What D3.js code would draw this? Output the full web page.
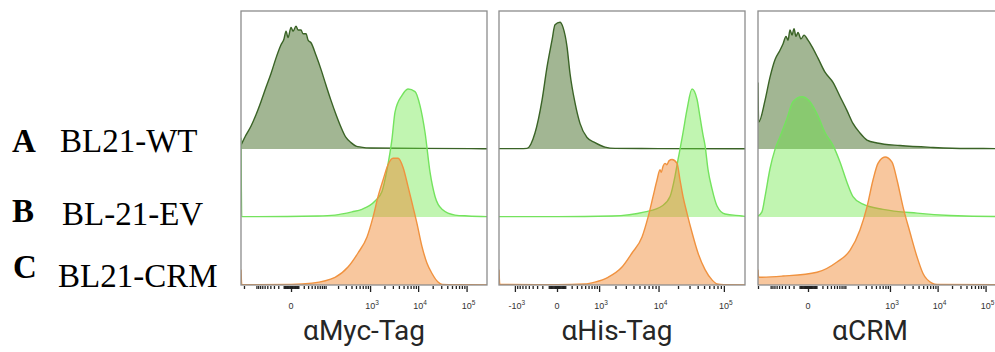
<!DOCTYPE html>
<html><head><meta charset="utf-8">
<script src="https://cdn.jsdelivr.net/npm/d3@7"></script>
<style>body{margin:0;background:#fff}</style>
</head><body><svg id="c" width="995" height="352"></svg>
<script>
// ---------- data ----------
const rowLetters = ["A", "B", "C"];
const rowNames = ["BL21-WT", "BL-21-EV", "BL21-CRM"];
const markers = ["αMyc-Tag", "αHis-Tag", "αCRM"];
const xDomains = [[-234, 263800], [-1962, 209000], [-200, 242000]];
const linearWidths = [24, 300, 20];
const majorTicks = [[0, 1e3, 1e4, 1e5], [-1e3, 0, 1e3, 1e4, 1e5], [0, 1e3, 1e4, 1e5]];
const majorLabels = [["0", "10|3", "10|4", "10|5"], ["-10|3", "0", "10|3", "10|4", "10|5"], ["0", "10|3", "10|4", "10|5"]];

// [fluorescence intensity, count as % of mode]
const myc_WT = [[-234,3],[-179,11],[-136,18],[-102,27],[-76,37],[-55,48],[-38,59],[-25,71],[-15,81],[-9.5,86],[-6.4,92],[-3.7,87],[0,95],[2.4,92],[6.4,96],[9.5,93],[14.6,93],[18.4,90],[25,90],[30,85],[38,83],[55,73],[76,62],[102,50],[136,38],[179,27],[234,17],[302,9],[390,5],[501,2.3],[642,1.5],[1046,0.8],[11470,0.5],[123300,0.3],[263800,0.2]];
const myc_EV = [[-234,62],[-225,0.3],[-100,0.3],[62,0.8],[170,1.5],[411,4],[673,6],[1272,12.5],[1779,20],[2265,37],[2876,61],[3323,82],[4639,95],[6175,100],[8630,98],[10940,87],[13895,66],[17620,35],[22340,16],[31150,6],[57740,1.5],[107000,0.8],[263800,0.3]];
const myc_CRM = [[-234,12],[-225,0.5],[-100,0.3],[0,0.5],[41,1.5],[170,6],[335,14],[553,25],[862,37.5],[1154,53],[1469,69],[1870,82],[2376,94],[3019,99],[3833,99],[4867,92],[6175,77],[7836,61],[9480,48],[12030,30],[15260,17],[19370,9],[25750,2.3],[31150,0.5],[60000,0.2],[263800,0.1]];

const his_WT = [[-1962,0.3],[-800,0.3],[-553,0.5],[-346,12.5],[-206,38],[-125,64],[-57,85],[-21.6,97],[33,99],[70,95],[125,80],[172,59],[262,36],[368,20],[553,9],[827,5],[1297,1.5],[1962,0.5],[10000,0.3],[209000,0.2]];
const his_EV = [[-1962,0.3],[0,0.3],[1738,0.8],[6130,4],[11340,8.6],[15080,16],[18000,32],[20020,45],[21480,53],[23880,66],[27490,84],[32770,100],[39050,92],[43410,78],[48240,64],[51730,56],[57440,37],[66060,22],[78750,8.6],[104100,2.3],[188400,0.8],[209000,0.5]];
const his_CRM = [[-1962,12],[-1900,0.5],[0,0.3],[500,0.8],[827,2.3],[1473,6],[2587,14],[3791,25],[5495,37.5],[6850,53],[8200,69],[9470,82],[10550,90],[11000,88],[11800,93],[12610,95],[13500,94],[14500,97],[16180,98],[19320,95],[21480,82],[23880,69],[27490,56],[32770,41],[40450,25],[51730,12],[66060,4],[78750,0.8],[100000,0.2],[209000,0.1]];

const crm_WT = [[-200,52],[-193,21],[-137,38],[-104,56],[-77,70],[-57,77],[-46.4,82],[-37.4,88],[-32.2,85],[-27.4,93],[-23,89],[-19.1,94],[-15.6,88],[-12.3,91],[-8,86],[-4.2,89],[0,85],[4.2,80],[12.3,71],[25.2,60],[46.4,52],[72.8,41],[110,30],[153,20],[222,12.5],[319,7],[528,4.7],[1630,2.7],[8018,1.2],[41060,0.4],[242000,0.3]];
const crm_EV = [[-200,0.8],[-162,4],[-137,16],[-104,37.5],[-77,53],[-57,62.5],[-34.8,77],[-21.1,90],[-6.7,94],[2,90],[12.3,79],[25.2,66],[46.4,56],[72.8,43],[110,27],[153,16],[260,10],[710,6],[3712,3],[18140,1.2],[157400,0.4],[242000,0.4]];
const crm_CRM = [[-200,12],[-193,6],[-46.4,7],[10.8,10],[60.4,18],[130,27],[222,43],[319,61],[432,82],[554,95],[784,100],[1105,96],[1410,82],[1886,61],[2648,41],[3712,22],[4958,9],[7640,1.5],[9720,0.4],[242000,0.1]];

const series = [[myc_WT, myc_EV, myc_CRM], [his_WT, his_EV, his_CRM], [crm_WT, crm_EV, crm_CRM]];

// ---------- layout / style ----------
const panelX = [241, 499, 758], panelW = 246, panelTop = 11, panelBottom = 285;
const rowStyle = [
  {fill: "rgb(70,110,40)", op: 0.5, stroke: "#3a6326"},
  {fill: "rgb(100,230,60)", op: 0.4, stroke: "#74e35e"},
  {fill: "rgb(240,130,40)", op: 0.45, stroke: "#f0923f"}
];
const titleX = [364, 617, 870];

const svg = d3.select("#c");
svg.append("rect").attr("width", 995).attr("height", 352).attr("fill", "#fff");

const hScale = d3.scaleLinear().domain([0, 100]).range([0, 128]);
const baseY = d3.scalePoint().domain(rowNames).range([149, panelBottom]);

function minorTicks(dom) {
  const out = [];
  for (let k = 0; k <= 4; k++) for (let m = 1; m <= 9; m++) {
    const v = m * Math.pow(10, k);
    if (m === 1 && k >= 3) continue;
    if (v <= dom[1]) out.push(v);
    if (-v >= dom[0] && !(m === 1 && k === 3)) out.push(-v);
  }
  return out;
}

markers.forEach((mk, i) => {
  const x = d3.scaleSymlog().constant(linearWidths[i]).domain(xDomains[i]).range([panelX[i], panelX[i] + panelW]);
  const g = svg.append("g");
  const clipId = "clip" + i;
  svg.append("clipPath").attr("id", clipId).append("rect")
    .attr("x", panelX[i]).attr("y", panelTop).attr("width", panelW).attr("height", panelBottom - panelTop);
  const plot = g.append("g").attr("clip-path", `url(#${clipId})`);

  rowNames.forEach((rn, r) => {
    const b = baseY(rn);
    const data = series[i][r];
    const area = d3.area().x(d => x(d[0])).y0(b).y1(d => b - hScale(d[1])).curve(d3.curveMonotoneX);
    const line = d3.line().x(d => x(d[0])).y(d => b - hScale(d[1])).curve(d3.curveMonotoneX);
    plot.append("path").attr("d", area(data)).attr("fill", rowStyle[r].fill).attr("fill-opacity", rowStyle[r].op);
    plot.append("path").attr("d", line(data)).attr("fill", "none").attr("stroke", rowStyle[r].stroke).attr("stroke-width", 1.4);
  });

  g.append("rect").attr("x", panelX[i]).attr("y", panelTop).attr("width", panelW).attr("height", panelBottom - panelTop)
    .attr("fill", "none").attr("stroke", "#8c8c8c").attr("stroke-width", 1.3);

  const minorAxis = d3.axisBottom(x).tickValues(minorTicks(xDomains[i])).tickSize(3).tickFormat("");
  const majorAxis = d3.axisBottom(x).tickValues(majorTicks[i]).tickSize(6).tickFormat("");
  [minorAxis, majorAxis].forEach(ax => {
    const a = g.append("g").attr("transform", `translate(0,${panelBottom + 1})`).call(ax);
    a.select(".domain").remove();
    a.selectAll(".tick line").attr("stroke", "#222").attr("stroke-width", 1.3);
  });

  majorTicks[i].forEach((v, j) => {
    const parts = majorLabels[i][j].split("|");
    const t = g.append("text").attr("x", x(v) + (parts.length > 1 ? 2 : 0)).attr("y", 309)
      .attr("text-anchor", "middle").attr("font-family", "Liberation Sans, Arial, sans-serif")
      .attr("font-size", 9).attr("fill", "#333");
    t.append("tspan").text(parts[0]);
    if (parts.length > 1) t.append("tspan").attr("dy", -4).attr("font-size", 6.5).text(parts[1]);
  });

  svg.append("text").attr("x", titleX[i]).attr("y", 340).attr("text-anchor", "middle")
    .attr("font-family", "Roboto, sans-serif").attr("font-size", 28).attr("fill", "#262626").text(mk);
});

// row labels
const letterPos = [[12, 152], [12, 222], [13, 278]];
const namePos = [[60, 152], [62, 225], [58, 287]];
rowNames.forEach((rn, r) => {
  svg.append("text").attr("x", letterPos[r][0]).attr("y", letterPos[r][1])
    .attr("font-family", "Liberation Serif, Times New Roman, serif").attr("font-weight", "bold")
    .attr("font-size", 33).attr("fill", "#000").text(rowLetters[r]);
  svg.append("text").attr("x", namePos[r][0]).attr("y", namePos[r][1])
    .attr("font-family", "Liberation Serif, Times New Roman, serif")
    .attr("font-size", 33).attr("fill", "#000").text(rn);
});
</script></body></html>
